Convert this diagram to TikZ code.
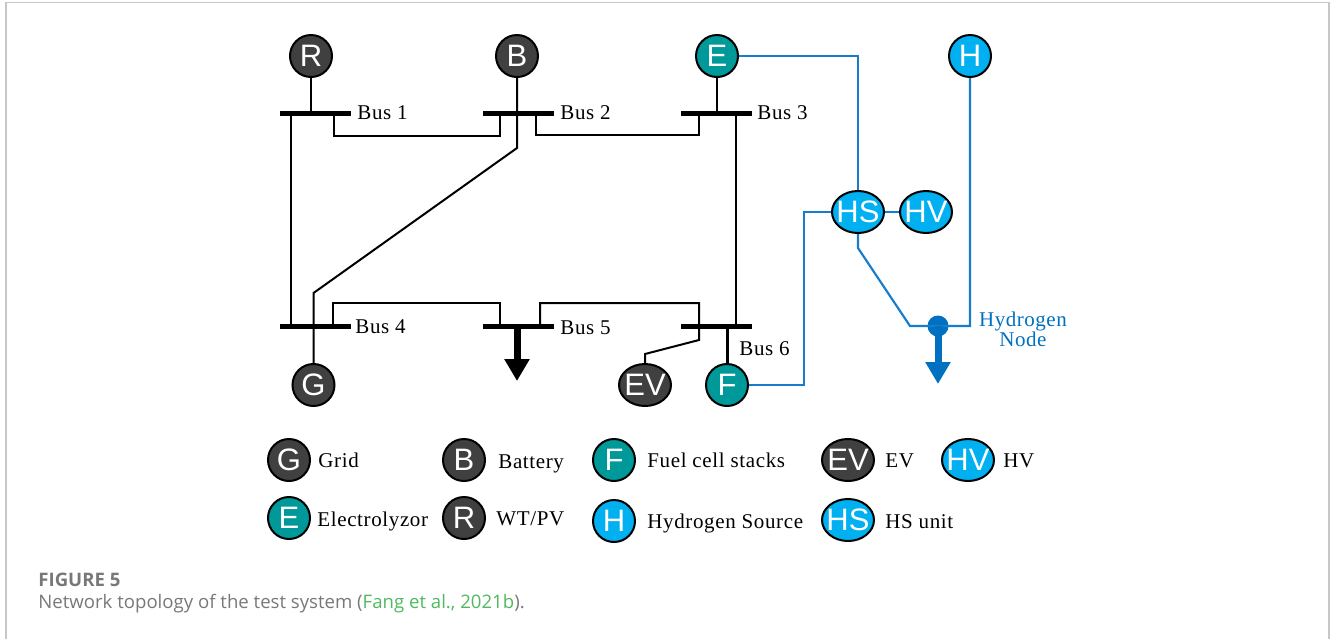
\documentclass[tikz,border=0pt]{standalone}
\usepackage{fontspec}
\setmainfont{Liberation Serif}[LetterSpace=3]
\setsansfont{Liberation Sans}
\newfontfamily\capfont{Open Sans}
\usepackage{tikz}
\definecolor{myDark}{RGB}{64,64,64}
\definecolor{myTeal}{RGB}{0,153,153}
\definecolor{mySky}{RGB}{0,176,240}
\definecolor{myBlue}{RGB}{0,112,192}
\definecolor{myLine}{RGB}{21,125,205}
\definecolor{myGray}{RGB}{120,120,120}
\definecolor{myGreen}{RGB}{80,185,95}
\usetikzlibrary{arrows.meta,calc,shapes.geometric}
\tikzset{
  x=0.5pt,y=-0.5pt,
  font=\fontsize{10.5}{12}\selectfont,
  unit/.style={draw=black,line width=1pt,shape=ellipse,inner sep=0,minimum width=42*0.5pt,minimum height=42*0.5pt,text=white,font=\sffamily\fontsize{15.5}{16}\selectfont},
  wide/.style={unit,inner xsep=-1.9pt,minimum width=52*0.5pt},
  dark/.style={fill=myDark},
  teal/.style={fill=myTeal},
  sky/.style={fill=mySky},
  bus/.style={fill=black,shape=rectangle,minimum width=71*0.5pt,minimum height=5*0.5pt,inner sep=0},
  line/.style={draw,line width=1pt,line join=miter},
  hline/.style={draw=myLine,line width=1.1pt},
  label/.style={anchor=west,inner sep=0,text height=1.5ex,text depth=0.25ex},
  load/.style={draw,line width=3.5pt,-{Triangle[width=12pt,length=11pt]}},
}
\begin{document}
\begin{tikzpicture}
  \useasboundingbox (0,0) rectangle (1330,639);
  \draw [black!22,line width=0.8pt] (6,639) |- (1329,2.5) -- (1329,639);
  % buses
  \node (busa) [bus] at (315,113) {};
  \node (busb) [bus] at (518,113) {};
  \node (busc) [bus] at (716,113) {};
  \node (busd) [bus] at (315,326) {};
  \node (buse) [bus] at (518,326) {};
  \node (busf) [bus] at (716,326) {};
  \node (labela) [label] at (357,114) {Bus 1};
  \node (labelb) [label] at (560,114) {Bus 2};
  \node (labelc) [label] at (757,114) {Bus 3};
  \node (labeld) [label] at (355,328) {Bus 4};
  \node (labele) [label] at (560,329) {Bus 5};
  \node (labelf) [label] at (739,350) {Bus 6};
  % units
  \node (r) [unit,dark] at (311,56) {R};
  \node (b) [unit,dark] at (517,56) {B};
  \node (e) [unit,teal] at (717,56) {E};
  \node (h) [unit,sky] at (970,56) {H};
  \node (hs) [wide,sky] at (858,212) {HS};
  \node (hv) [wide,sky] at (926,212) {HV};
  \node (g) [unit,dark] at (313.5,385) {G};
  \node (ev) [wide,dark] at (645,385) {EV};
  \node (f) [unit,teal] at (727,385) {F};
  \node (hnode) [fill=myBlue,shape=circle,minimum size=21*0.5pt,inner sep=0] at (938,326) {};
  \node (hlabel) [text=myBlue,align=center,inner sep=0,font=\fontsize{10.5}{10}\selectfont\addfontfeatures{LetterSpace=2.5}] at (1023,329.5) {Hydrogen\\Node};
  % electric lines
  \path [line] (r) -- (r|-busa);
  \path [line] (b) -- ($(b|-busa)+(0,35)$) coordinate (bend) -- ($(g)+(0,-92)$) coordinate (bendg) -- (g);
  \path [line] (e) -- (e|-busc);
  \path [line] ($(busa)+(-24,0)$) -- ($(busd)+(-24,0)$);
  \path [line] ($(busa)+(19,0)$) |- (500,136) -- ($(busb)+(-18,0)$);
  \path [line] ($(busb)+(18,0)$) |- (699,135) -- ($(busc)+(-17,0)$);
  \path [line] ($(busc)+(20,0)$) -- ($(busf)+(20,0)$);
  \path [line] ($(busd)+(18,0)$) |- (500,303) -- ($(buse)+(-18,0)$);
  \path [line] ($(buse)+(22,0)$) |- (699,303) -- (699,340) -- (645,354) -- (ev);
  \path [line,line width=1.5pt] (f) -- (f|-busf);
  \path [load] ($(buse)+(-1,0)$) -- ($(buse)+(-1,55)$) coordinate (loade);
  % hydrogen lines
  \path [hline] (e) -| (hs);
  \path [hline] (hs) -- (hv);
  \path [hline] (f) -| (804,212) -- (hs);
  \path [hline] (hs) -- (858,248) -- (910,326) -- (970,326) -- (h);
  \path [load,draw=myBlue] (hnode.center) -- ($(hnode)+(0,58)$) coordinate (loadh);
  % legend
  \node (lg) [unit,dark] at (289,460) {G};
  \node (lb) [unit,dark] at (464,460) {B};
  \node (lf) [unit,teal] at (614,460) {F};
  \node (lev) [wide,dark] at (848,460) {EV};
  \node (lhv) [wide,sky] at (968,460) {HV};
  \node (le) [unit,teal] at (289,518) {E};
  \node (lr) [unit,dark] at (464,518) {R};
  \node (lh) [unit,sky] at (614,521) {H};
  \node (lhs) [wide,sky] at (848,520) {HS};
  \node (tg) [label] at (318,462) {Grid};
  \node (tb) [label] at (498,463) {Battery};
  \node (tf) [label] at (647,462) {Fuel cell stacks};
  \node (tev) [label] at (885,462) {EV};
  \node (thv) [label] at (1003,462) {HV};
  \node (te) [label] at (317,521) {Electrolyzor};
  \node (tr) [label] at (496,520) {WT/PV};
  \node (th) [label] at (647,523) {Hydrogen Source};
  \node (ths) [label] at (885,523) {HS unit};
  % caption
  \node (fig) [label,text=myGray,font=\capfont\bfseries\fontsize{9.3}{11}\selectfont] at (38,581) {FIGURE 5};
  \node (cap) [label,text=myGray,font=\capfont\fontsize{9.3}{11}\selectfont] at (38,603) {Network topology of the test system (\textcolor{myGreen}{Fang et al., 2021b}).};
\end{tikzpicture}
\end{document}
